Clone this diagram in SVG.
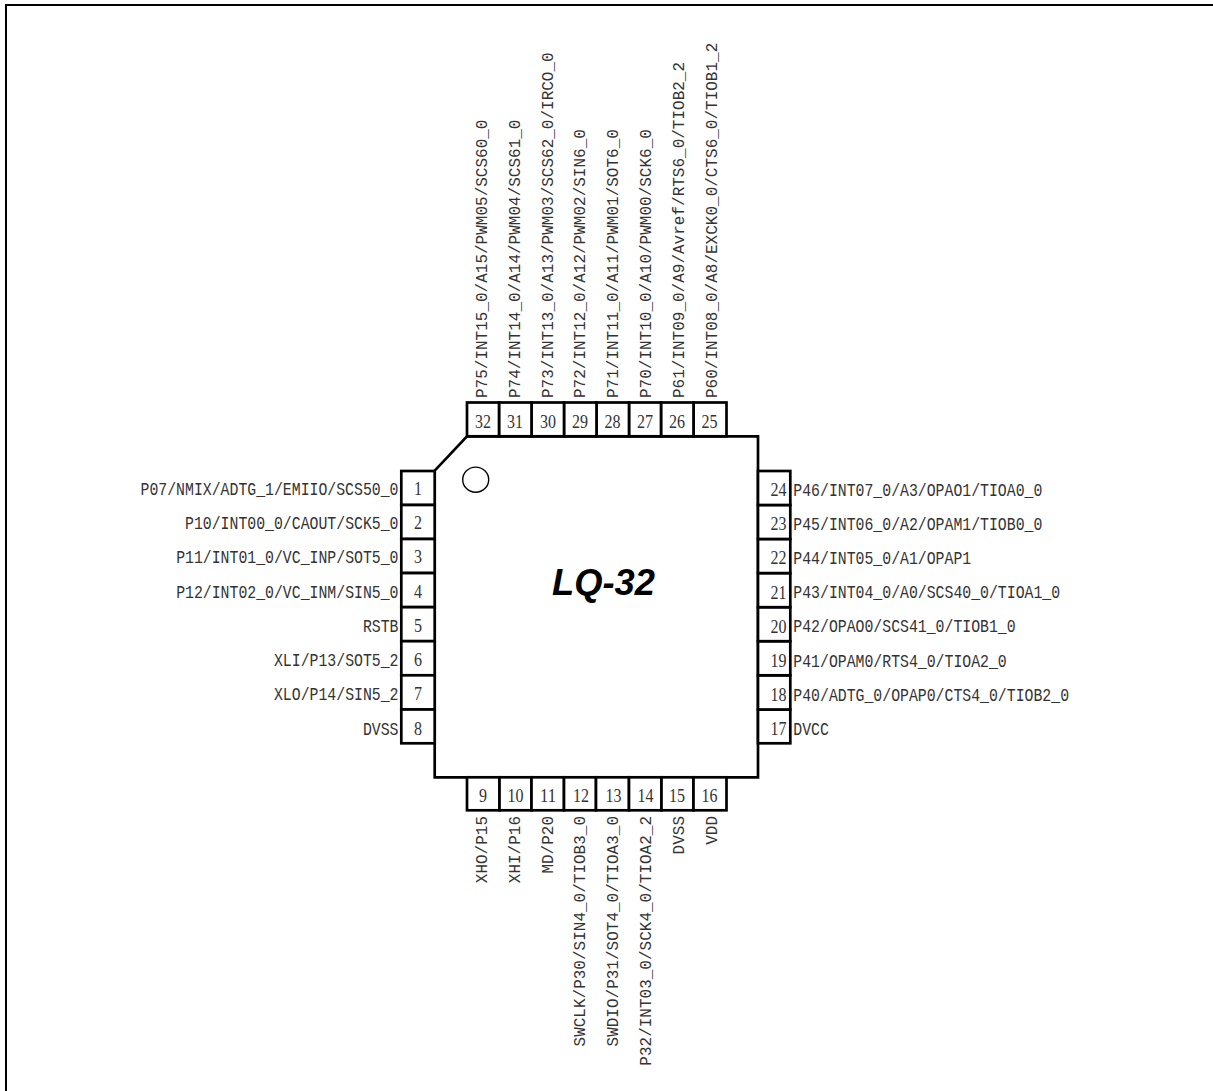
<svg xmlns="http://www.w3.org/2000/svg" width="1213" height="1091" viewBox="0 0 1213 1091">
<style>
text{font-family:"Liberation Mono",monospace;fill:#333}
.h{font-size:19px}
.v{font-size:16px}
.n{font-family:"Liberation Serif",serif;font-size:19px;text-anchor:middle}
.e{text-anchor:end}
.b{fill:#fff;stroke:#000;stroke-width:2.700}
.o{fill:none;stroke:#000;stroke-width:2.700}
</style>
<rect width="1213" height="1091" fill="#fff"/>
<path id="frame" class="o" style="stroke-width:2" d="M1213 5H6V1091"/>
<g id="connectors"></g>
<g id="package">
<path class="o" d="M467 436.300H758V777.300H434.700V470.700Z"/>
<ellipse cx="475.700" cy="479.700" rx="13" ry="12.600" fill="none" stroke="#000" stroke-width="1.400"/>
<text x="552" y="595" textLength="103" lengthAdjust="spacingAndGlyphs" style="font-family:'Liberation Sans',sans-serif;font-size:37.500px;font-weight:700;font-style:italic;fill:#000">LQ-32</text>
</g>
<g id="pin1"><rect class="b" x="401.300" y="471" width="33.400" height="34"/><text class="n" x="418" y="495" textLength="8" lengthAdjust="spacingAndGlyphs">1</text><text class="h e" transform="translate(398.500 495) scale(.7807 1)">P07/NMIX/ADTG_1/EMIIO/SCS50_0</text></g>
<g id="pin2"><rect class="b" x="401.300" y="505" width="33.400" height="34"/><text class="n" x="418" y="529" textLength="8" lengthAdjust="spacingAndGlyphs">2</text><text class="h e" transform="translate(398.500 529) scale(.7807 1)">P10/INT00_0/CAOUT/SCK5_0</text></g>
<g id="pin3"><rect class="b" x="401.300" y="539" width="33.400" height="34"/><text class="n" x="418" y="563" textLength="8" lengthAdjust="spacingAndGlyphs">3</text><text class="h e" transform="translate(398.500 563) scale(.7807 1)">P11/INT01_0/VC_INP/SOT5_0</text></g>
<g id="pin4"><rect class="b" x="401.300" y="573.100" width="33.400" height="34"/><text class="n" x="418" y="597.500" textLength="8" lengthAdjust="spacingAndGlyphs">4</text><text class="h e" transform="translate(398.500 597.500) scale(.7807 1)">P12/INT02_0/VC_INM/SIN5_0</text></g>
<g id="pin5"><rect class="b" x="401.300" y="607.200" width="33.400" height="34"/><text class="n" x="418" y="632" textLength="8" lengthAdjust="spacingAndGlyphs">5</text><text class="h e" transform="translate(398.500 632) scale(.7807 1)">RSTB</text></g>
<g id="pin6"><rect class="b" x="401.300" y="641.200" width="33.400" height="34.100"/><text class="n" x="418" y="666" textLength="8" lengthAdjust="spacingAndGlyphs">6</text><text class="h e" transform="translate(398.500 666) scale(.7807 1)">XLI/P13/SOT5_2</text></g>
<g id="pin7"><rect class="b" x="401.300" y="675.300" width="33.400" height="34.200"/><text class="n" x="418" y="700" textLength="8" lengthAdjust="spacingAndGlyphs">7</text><text class="h e" transform="translate(398.500 700) scale(.7807 1)">XLO/P14/SIN5_2</text></g>
<g id="pin8"><rect class="b" x="401.300" y="709.500" width="33.400" height="33.800"/><text class="n" x="418" y="734.500" textLength="8" lengthAdjust="spacingAndGlyphs">8</text><text class="h e" transform="translate(398.500 734.500) scale(.7807 1)">DVSS</text></g>
<g id="pin9"><rect class="b" x="467" y="777.300" width="32.500" height="33"/><text class="n" x="483" y="801.700" textLength="8" lengthAdjust="spacingAndGlyphs">9</text><text class="v e" transform="translate(487 816) rotate(-90)">XHO/P15</text></g>
<g id="pin10"><rect class="b" x="499.500" y="777.300" width="32" height="33"/><text class="n" x="515.500" y="801.700" textLength="16" lengthAdjust="spacingAndGlyphs">10</text><text class="v e" transform="translate(519.800 816) rotate(-90)">XHI/P16</text></g>
<g id="pin11"><rect class="b" x="531.500" y="777.300" width="32.500" height="33"/><text class="n" x="548" y="801.700" textLength="16" lengthAdjust="spacingAndGlyphs">11</text><text class="v e" transform="translate(552.600 816) rotate(-90)">MD/P20</text></g>
<g id="pin12"><rect class="b" x="564" y="777.300" width="32" height="33"/><text class="n" x="581" y="801.700" textLength="16" lengthAdjust="spacingAndGlyphs">12</text><text class="v e" transform="translate(585.400 816) rotate(-90)">SWCLK/P30/SIN4_0/TIOB3_0</text></g>
<g id="pin13"><rect class="b" x="596" y="777.300" width="33" height="33"/><text class="n" x="613.500" y="801.700" textLength="16" lengthAdjust="spacingAndGlyphs">13</text><text class="v e" transform="translate(618.200 816) rotate(-90)">SWDIO/P31/SOT4_0/TIOA3_0</text></g>
<g id="pin14"><rect class="b" x="629" y="777.300" width="32.500" height="33"/><text class="n" x="645.500" y="801.700" textLength="16" lengthAdjust="spacingAndGlyphs">14</text><text class="v e" transform="translate(651 816) rotate(-90)">P32/INT03_0/SCK4_0/TIOA2_2</text></g>
<g id="pin15"><rect class="b" x="661.500" y="777.300" width="32" height="33"/><text class="n" x="677" y="801.700" textLength="16" lengthAdjust="spacingAndGlyphs">15</text><text class="v e" transform="translate(683.800 816) rotate(-90)">DVSS</text></g>
<g id="pin16"><rect class="b" x="693.500" y="777.300" width="33" height="33"/><text class="n" x="709.500" y="801.700" textLength="16" lengthAdjust="spacingAndGlyphs">16</text><text class="v e" transform="translate(716.600 816) rotate(-90)">VDD</text></g>
<g id="pin17"><rect class="b" x="758" y="709.500" width="32.300" height="33.800"/><text class="n" x="778.500" y="735" textLength="16" lengthAdjust="spacingAndGlyphs">17</text><text class="h" transform="translate(793.300 734.500) scale(.7807 1)">DVCC</text></g>
<g id="pin18"><rect class="b" x="758" y="675.300" width="32.300" height="34.200"/><text class="n" x="778.500" y="701" textLength="16" lengthAdjust="spacingAndGlyphs">18</text><text class="h" transform="translate(793.300 700.500) scale(.7807 1)">P40/ADTG_0/OPAP0/CTS4_0/TIOB2_0</text></g>
<g id="pin19"><rect class="b" x="758" y="641.200" width="32.300" height="34.100"/><text class="n" x="778.500" y="667" textLength="16" lengthAdjust="spacingAndGlyphs">19</text><text class="h" transform="translate(793.300 666.500) scale(.7807 1)">P41/OPAM0/RTS4_0/TIOA2_0</text></g>
<g id="pin20"><rect class="b" x="758" y="607.200" width="32.300" height="34"/><text class="n" x="778.500" y="632.500" textLength="16" lengthAdjust="spacingAndGlyphs">20</text><text class="h" transform="translate(793.300 632) scale(.7807 1)">P42/OPAO0/SCS41_0/TIOB1_0</text></g>
<g id="pin21"><rect class="b" x="758" y="573.100" width="32.300" height="34.100"/><text class="n" x="778.500" y="598.500" textLength="16" lengthAdjust="spacingAndGlyphs">21</text><text class="h" transform="translate(793.300 598) scale(.7807 1)">P43/INT04_0/A0/SCS40_0/TIOA1_0</text></g>
<g id="pin22"><rect class="b" x="758" y="539" width="32.300" height="34.100"/><text class="n" x="778.500" y="564" textLength="16" lengthAdjust="spacingAndGlyphs">22</text><text class="h" transform="translate(793.300 563.500) scale(.7807 1)">P44/INT05_0/A1/OPAP1</text></g>
<g id="pin23"><rect class="b" x="758" y="505" width="32.300" height="34"/><text class="n" x="778.500" y="530" textLength="16" lengthAdjust="spacingAndGlyphs">23</text><text class="h" transform="translate(793.300 529.500) scale(.7807 1)">P45/INT06_0/A2/OPAM1/TIOB0_0</text></g>
<g id="pin24"><rect class="b" x="758" y="471" width="32.300" height="34"/><text class="n" x="778.500" y="496" textLength="16" lengthAdjust="spacingAndGlyphs">24</text><text class="h" transform="translate(793.300 495.500) scale(.7807 1)">P46/INT07_0/A3/OPAO1/TIOA0_0</text></g>
<g id="pin25"><rect class="b" x="693.500" y="402.500" width="33" height="33.800"/><text class="n" x="709.500" y="427.500" textLength="16" lengthAdjust="spacingAndGlyphs">25</text><text class="v" transform="translate(716.600 398) rotate(-90)">P60/INT08_0/A8/EXCK0_0/CTS6_0/TIOB1_2</text></g>
<g id="pin26"><rect class="b" x="661" y="402.500" width="32.500" height="33.800"/><text class="n" x="677" y="427.500" textLength="16" lengthAdjust="spacingAndGlyphs">26</text><text class="v" transform="translate(683.800 398) rotate(-90)">P61/INT09_0/A9/Avref/RTS6_0/TIOB2_2</text></g>
<g id="pin27"><rect class="b" x="629" y="402.500" width="32" height="33.800"/><text class="n" x="645" y="427.500" textLength="16" lengthAdjust="spacingAndGlyphs">27</text><text class="v" transform="translate(651 398) rotate(-90)">P70/INT10_0/A10/PWM00/SCK6_0</text></g>
<g id="pin28"><rect class="b" x="596.500" y="402.500" width="32.500" height="33.800"/><text class="n" x="612.500" y="427.500" textLength="16" lengthAdjust="spacingAndGlyphs">28</text><text class="v" transform="translate(618.200 398) rotate(-90)">P71/INT11_0/A11/PWM01/SOT6_0</text></g>
<g id="pin29"><rect class="b" x="564" y="402.500" width="32.500" height="33.800"/><text class="n" x="580" y="427.500" textLength="16" lengthAdjust="spacingAndGlyphs">29</text><text class="v" transform="translate(585.400 398) rotate(-90)">P72/INT12_0/A12/PWM02/SIN6_0</text></g>
<g id="pin30"><rect class="b" x="531.500" y="402.500" width="32.500" height="33.800"/><text class="n" x="548" y="427.500" textLength="16" lengthAdjust="spacingAndGlyphs">30</text><text class="v" transform="translate(552.600 398) rotate(-90)">P73/INT13_0/A13/PWM03/SCS62_0/IRCO_0</text></g>
<g id="pin31"><rect class="b" x="499" y="402.500" width="32.500" height="33.800"/><text class="n" x="515" y="427.500" textLength="16" lengthAdjust="spacingAndGlyphs">31</text><text class="v" transform="translate(519.800 398) rotate(-90)">P74/INT14_0/A14/PWM04/SCS61_0</text></g>
<g id="pin32"><rect class="b" x="467" y="402.500" width="32" height="33.800"/><text class="n" x="483" y="427.500" textLength="16" lengthAdjust="spacingAndGlyphs">32</text><text class="v" transform="translate(487 398) rotate(-90)">P75/INT15_0/A15/PWM05/SCS60_0</text></g>
</svg>
